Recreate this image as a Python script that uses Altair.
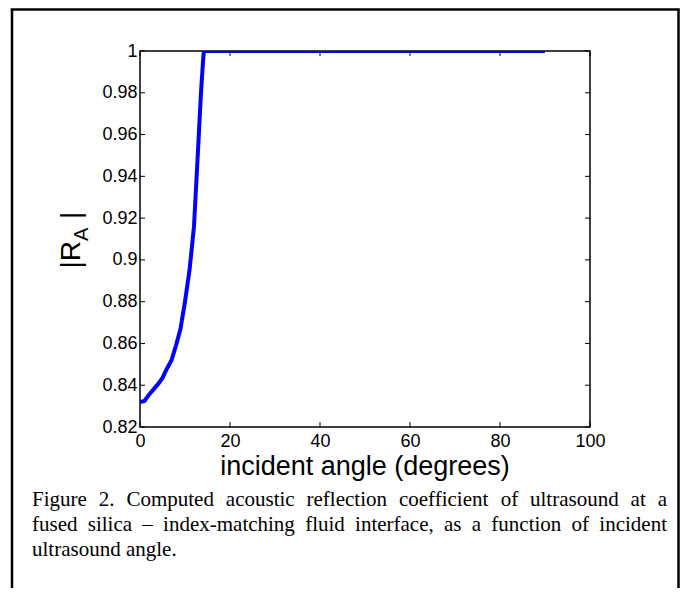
import altair as alt
import pandas as pd

# ---------------- data ----------------
angles = [0, 1, 2, 3, 4, 5, 6, 7, 8, 9, 10, 11, 12, 13, 13.5, 14, 14.2, 90]
ra_values = [0.832, 0.8325, 0.8355, 0.838, 0.8405, 0.8435, 0.848, 0.852, 0.859,
             0.867, 0.880, 0.895, 0.916, 0.957, 0.978, 0.995, 1.0, 1.0]
x_ticks = [0, 20, 40, 60, 80, 100]
y_ticks = [0.82, 0.84, 0.86, 0.88, 0.9, 0.92, 0.94, 0.96, 0.98, 1.0]
x_title = "incident angle (degrees)"
y_title_parts = ["|R", "A", "|"]
caption_lines = [
    "Figure 2. Computed acoustic reflection coefficient of ultrasound at a",
    "fused silica \u2013 index-matching fluid interface, as a function of incident",
    "ultrasound angle.",
]

# ---------------- layout ----------------
W, H = 450, 376
OX, OY = 140, 51          # page position of the plot origin
SVG_W, SVG_H = 672, 580
CAP_FS = 21
CAP_LEFT, CAP_RIGHT = 32, 667
CAP_BASE = [506, 531, 556]
FR_L, FR_T, FR_R = 12, 9.6, 678.5

TIMES = {' ': 250, 'a': 444, 'b': 500, 'c': 444, 'd': 500, 'e': 444, 'f': 333,
         'g': 500, 'h': 500, 'i': 278, 'j': 278, 'k': 500, 'l': 278, 'm': 778,
         'n': 500, 'o': 500, 'p': 500, 'q': 500, 'r': 333, 's': 389, 't': 278,
         'u': 500, 'v': 500, 'w': 722, 'x': 500, 'y': 500, 'z': 444, 'F': 556,
         'C': 667, '.': 250, ',': 250, '2': 500, '\u2013': 500, '-': 333}


def tw(s):
    return sum(TIMES.get(c, 500) for c in s) * CAP_FS / 1000.0


rows = []
for i, line in enumerate(caption_lines):
    words = line.split(" ")
    justify = i < len(caption_lines) - 1
    widths = [tw(w) for w in words]
    if justify and len(words) > 1:
        gap = (CAP_RIGHT - CAP_LEFT - sum(widths)) / (len(words) - 1)
    else:
        gap = tw(" ")
    x = CAP_LEFT
    for w, wd in zip(words, widths):
        rows.append({"word": w, "px": x - OX, "py": CAP_BASE[i] - OY})
        x += wd + gap
cap_df = pd.DataFrame(rows)

xs = alt.Scale(domain=[0, 100], nice=False, zero=False)
ys = alt.Scale(domain=[0.82, 1.0], nice=False, zero=False)

curve_df = pd.DataFrame({"angle": angles, "ra": ra_values})
xt_df = pd.DataFrame({"t": x_ticks})
yt_df = pd.DataFrame({"t": y_ticks})

curve = alt.Chart(curve_df).mark_line(color="#0000ff", strokeWidth=4, clip=True).encode(
    x=alt.X("angle:Q", scale=xs,
            axis=alt.Axis(values=x_ticks, format="d", title=None, labelFlush=False,
                          labelOverlap=False, labelPadding=5)),
    y=alt.Y("ra:Q", scale=ys,
            axis=alt.Axis(values=y_ticks, format="~g", title=None, labelFlush=False,
                          labelOverlap=False, labelPadding=3)),
)

tick_len = 5
xt_bottom = alt.Chart(xt_df).mark_rule(color="black", strokeWidth=1).encode(
    x=alt.X("t:Q", scale=xs), y=alt.value(H), y2=alt.value(H - tick_len))
xt_top = alt.Chart(xt_df).mark_rule(color="black", strokeWidth=1).encode(
    x=alt.X("t:Q", scale=xs), y=alt.value(0), y2=alt.value(tick_len))
yt_left = alt.Chart(yt_df).mark_rule(color="black", strokeWidth=1).encode(
    y=alt.Y("t:Q", scale=ys), x=alt.value(0), x2=alt.value(tick_len))
yt_right = alt.Chart(yt_df).mark_rule(color="black", strokeWidth=1).encode(
    y=alt.Y("t:Q", scale=ys), x=alt.value(W), x2=alt.value(W - tick_len))

ytitle_df = pd.DataFrame({
    "txt": y_title_parts,
    "px": [80 - OX, 88 - OX, 80 - OX],
    "py": [268.6 - OY, 241 - OY, 219 - OY],
    "fs": [28, 20, 28],
})
ytitle = alt.Chart(ytitle_df).mark_text(
    align="left", baseline="alphabetic", angle=270, font="Liberation Sans", color="black"
).encode(
    x=alt.X("px:Q", scale=None), y=alt.Y("py:Q", scale=None),
    size=alt.Size("fs:Q", scale=None, legend=None), text="txt:N")

xtitle = alt.Chart(pd.DataFrame({"txt": [x_title]})).mark_text(
    align="center", baseline="alphabetic", font="Liberation Sans", fontSize=27, color="black"
).encode(x=alt.value(W / 2), y=alt.value(475 - OY), text="txt:N")

caption = alt.Chart(cap_df).mark_text(
    align="left", baseline="alphabetic", font="Liberation Serif", fontSize=CAP_FS, color="black"
).encode(x=alt.X("px:Q", scale=None), y=alt.Y("py:Q", scale=None), text="word:N")

bottom_edge = SVG_H - OY + 10
frame_left = alt.Chart(pd.DataFrame({"k": [0]})).mark_rule(color="black", strokeWidth=2.5).encode(
    x=alt.value(FR_L - OX), y=alt.value(FR_T - OY), y2=alt.value(bottom_edge))
frame_right = alt.Chart(pd.DataFrame({"k": [0]})).mark_rule(color="black", strokeWidth=2.5).encode(
    x=alt.value(FR_R - OX), y=alt.value(FR_T - OY), y2=alt.value(bottom_edge))
frame_top = alt.Chart(pd.DataFrame({"k": [0]})).mark_rule(color="black", strokeWidth=2.5).encode(
    y=alt.value(FR_T - OY), x=alt.value(FR_L - 1.25 - OX), x2=alt.value(FR_R + 1.25 - OX))

chart = alt.layer(
    frame_left, frame_right, frame_top, curve, xt_bottom, xt_top, yt_left, yt_right,
    ytitle, xtitle, caption
).properties(
    width=W, height=H, autosize=alt.AutoSizeParams(type="none"),
    padding={"left": OX - 8, "top": OY - 8, "right": SVG_W - (OX - 8) - W,
             "bottom": SVG_H - (OY - 8) - H},
    background="white",
).configure_view(
    stroke="black", strokeWidth=1.5
).configure_axis(
    domain=False, ticks=False, tickSize=0, grid=False,
    labelFont="Liberation Sans", labelFontSize=18, labelColor="black",
)

chart.save("out.html", embed_options={"renderer": "svg", "actions": False})
